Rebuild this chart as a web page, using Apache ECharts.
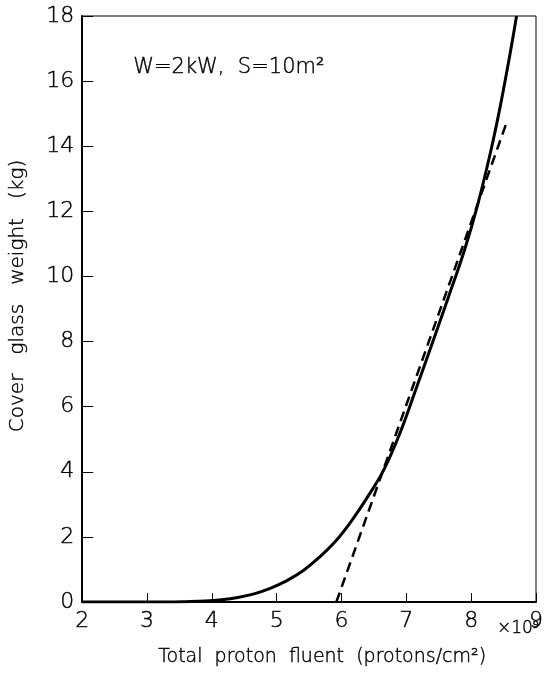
<!DOCTYPE html>
<html>
<head>
<meta charset="utf-8">
<script src="https://cdn.jsdelivr.net/npm/echarts@6/dist/echarts.min.js"></script>
<style>html,body{margin:0;padding:0;background:#fff}#c{width:547px;height:675px}</style>
</head>
<body>
<div id="c"></div>
<script>
// Solid curve: cover glass weight (kg) vs total proton fluent (x10^9 protons/cm^2)
const curveX = [2.0, 2.5, 3.0, 3.3, 3.6, 3.9, 4.15, 4.4, 4.65, 4.9, 5.15, 5.4, 5.65, 5.9, 6.15, 6.4, 6.65, 6.9, 7.15, 7.4, 7.65, 7.9, 8.1, 8.3, 8.45, 8.6, 8.7];
const curveY = [0.0, 0.0, 0.0, 0.0, 0.01, 0.03, 0.07, 0.14, 0.25, 0.42, 0.65, 0.95, 1.36, 1.85, 2.48, 3.22, 4.05, 5.18, 6.55, 7.95, 9.37, 10.83, 12.2, 13.83, 15.24, 16.84, 18.0];
// Dashed straight line
const lineX = [5.92, 8.56];
const lineY = [0.0, 14.8];
const xTicks = [2, 3, 4, 5, 6, 7, 8, 9];
const yTicks = [0, 2, 4, 6, 8, 10, 12, 14, 16, 18];
const annotation = 'W=2kW,  S=10m²';
const xName = 'Total  proton  fluent  (protons/cm²)';
const yName = 'Cover   glass   weight   (kg)';
const xScale = '×10⁹';

const FONT = 'DejaVu Sans';
const chart = echarts.init(document.getElementById('c'));
const thin = {fontFamily: FONT, fontWeight: 200, color: '#000', textBorderColor: '#000', textBorderWidth: 0.4};
chart.setOption({
  animation: false,
  backgroundColor: '#fff',
  grid: {left: 81, right: 11, top: 16, bottom: 73, show: true, borderColor: '#000', borderWidth: 1},
  xAxis: {
    type: 'value', min: 2, max: 9, interval: 1,
    axisLine: {show: true, onZero: false, lineStyle: {color: '#000', width: 2}},
    axisTick: {show: true, inside: true, length: 9, lineStyle: {color: '#000', width: 1}},
    axisLabel: Object.assign({fontSize: 22, margin: 8,
      formatter: v => xTicks.includes(v) ? String(v) : ''}, thin),
    splitLine: {show: false},
    name: xName, nameLocation: 'middle', nameGap: 46,
    nameTextStyle: Object.assign({fontSize: 19, padding: [0, 0, 0, 26]}, thin)
  },
  yAxis: {
    type: 'value', min: 0, max: 18, interval: 2,
    axisLine: {show: true, onZero: false, lineStyle: {color: '#000', width: 2}},
    axisTick: {show: true, inside: true, length: 11, lineStyle: {color: '#000', width: 1}},
    axisLabel: Object.assign({fontSize: 22, margin: 8,
      formatter: v => yTicks.includes(v) ? String(v) : ''}, thin),
    splitLine: {show: false},
    name: yName, nameLocation: 'middle', nameGap: 54,
    nameTextStyle: Object.assign({fontSize: 20, padding: [0, 0, 0, 26]}, thin)
  },
  series: [
    {type: 'line', data: curveX.map((x, i) => [x, curveY[i]]), smooth: 0.4, showSymbol: false,
      lineStyle: {color: '#000', width: 3}, z: 3},
    {type: 'line', data: lineX.map((x, i) => [x, lineY[i]]), showSymbol: false,
      lineStyle: {color: '#000', width: 2.5, type: [10, 6]}, z: 2}
  ],
  graphic: [
    {type: 'text', left: 133, top: 57, style: {text: annotation, font: '200 21px "DejaVu Sans"', fill: '#000', stroke: '#000', lineWidth: 0.4}},
    {type: 'text', right: 8, top: 620, style: {text: xScale, font: '200 17px "DejaVu Sans"', fill: '#000', stroke: '#000', lineWidth: 0.4}}
  ]
});
</script>
</body>
</html>
